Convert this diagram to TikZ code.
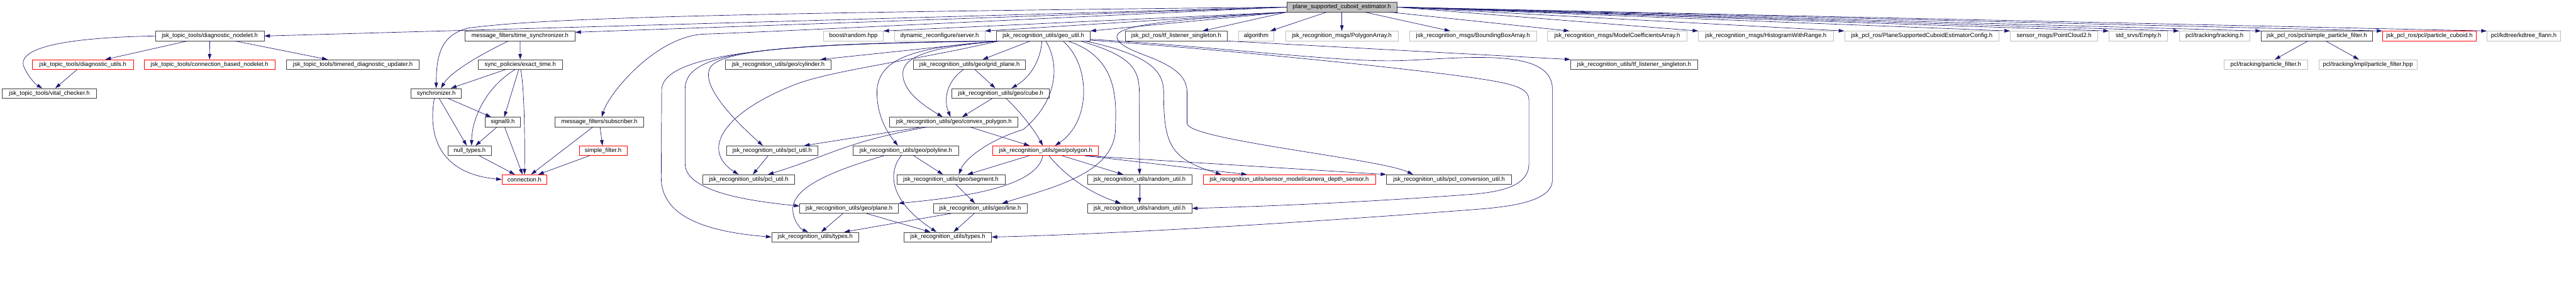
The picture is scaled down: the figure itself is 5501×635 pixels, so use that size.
\documentclass[tikz,border=0pt]{standalone}
\usepackage{fontspec}
\setmainfont{Liberation Sans}
\usepackage{tikz}
\usetikzlibrary{arrows.meta,positioning}
\definecolor{edgeblue}{HTML}{191970}
\definecolor{boxgray}{HTML}{404040}
\definecolor{extgray}{HTML}{BFBFBF}

\begin{document}
\begin{tikzpicture}[x=1pt,y=-1pt,
  hdr/.style={draw=boxgray,line width=0.9pt,fill=white,inner sep=0pt,
    minimum height=20.6pt,font=\fontsize{12.8}{14}\selectfont},
  hdrred/.style={hdr,draw=red},
  hdrext/.style={hdr,draw=extgray},
  hdrroot/.style={hdr,fill=extgray},
  inc/.style={-{Triangle[length=12pt,width=7.5pt]},line width=0.9pt,edgeblue}]
\useasboundingbox (0,0) rectangle (5501,635);
% row 0
\node[hdrroot,minimum width=235pt] (root) at (2865.5,15.2) {plane\_supported\_cuboid\_estimator.h};
% row 1
\node[hdr,minimum width=232pt] (dnode) at (448,77) {jsk\_topic\_tools/diagnostic\_nodelet.h};
\node[hdr,minimum width=235pt] (tsync) at (1110.5,77) {message\_filters/time\_synchronizer.h};
\node[hdrext,minimum width=127pt] (brand) at (1822.5,77) {boost/random.hpp};
\node[hdrext,minimum width=193pt] (dynrec) at (2006.5,77) {dynamic\_reconfigure/server.h};
\node[hdr,minimum width=200pt] (geoutil) at (2228,77) {jsk\_recognition\_utils/geo\_util.h};
\node[hdr,minimum width=218pt] (pcltf) at (2512,77) {jsk\_pcl\_ros/tf\_listener\_singleton.h};
\node[hdrext,minimum width=75pt] (algo) at (2682.5,77) {algorithm};
\node[hdrext,minimum width=241pt] (polyarr) at (2865.5,77) {jsk\_recognition\_msgs/PolygonArray.h};
\node[hdrext,minimum width=271pt] (bbox) at (3145.5,77) {jsk\_recognition\_msgs/BoundingBoxArray.h};
\node[hdrext,minimum width=299pt] (modelc) at (3453.5,77) {jsk\_recognition\_msgs/ModelCoefficientsArray.h};
\node[hdrext,minimum width=288pt] (hist) at (3771,77) {jsk\_recognition\_msgs/HistogramWithRange.h};
\node[hdrext,minimum width=330pt] (config) at (4104,77) {jsk\_pcl\_ros/PlaneSupportedCuboidEstimatorConfig.h};
\node[hdrext,minimum width=187pt] (pc2) at (4386.5,77) {sensor\_msgs/PointCloud2.h};
\node[hdrext,minimum width=125pt] (empty) at (4566.5,77) {std\_srvs/Empty.h};
\node[hdrext,minimum width=150pt] (tracking) at (4729,77) {pcl/tracking/tracking.h};
\node[hdr,minimum width=237pt] (spf) at (4947.5,77) {jsk\_pcl\_ros/pcl/simple\_particle\_filter.h};
\node[hdrred,minimum width=200pt] (pcub) at (5188,77) {jsk\_pcl\_ros/pcl/particle\_cuboid.h};
\node[hdrext,minimum width=157pt] (kdtree) at (5389.5,77) {pcl/kdtree/kdtree\_flann.h};
% row 2
\node[hdrred,minimum width=216pt] (dutils) at (177,138) {jsk\_topic\_tools/diagnostic\_utils.h};
\node[hdrred,minimum width=279pt] (cbn) at (447.5,138) {jsk\_topic\_tools/connection\_based\_nodelet.h};
\node[hdr,minimum width=283pt] (tdu) at (753.5,138) {jsk\_topic\_tools/timered\_diagnostic\_updater.h};
\node[hdr,minimum width=180pt] (exact) at (1111,138) {sync\_policies/exact\_time.h};
\node[hdr,minimum width=226pt] (cyl) at (1662,138) {jsk\_recognition\_utils/geo/cylinder.h};
\node[hdr,minimum width=239pt] (grid) at (2070.5,138) {jsk\_recognition\_utils/geo/grid\_plane.h};
\node[hdr,minimum width=271pt] (utf) at (3489.5,138) {jsk\_recognition\_utils/tf\_listener\_singleton.h};
\node[hdrext,minimum width=179pt] (pf) at (4838.5,138) {pcl/tracking/particle\_filter.h};
\node[hdrext,minimum width=209pt] (pfhpp) at (5056.5,138) {pcl/tracking/impl/particle\_filter.hpp};
% row 3
\node[hdr,minimum width=201pt] (vital) at (105.5,199.5) {jsk\_topic\_tools/vital\_checker.h};
\node[hdr,minimum width=107pt] (sync) at (931.5,199.5) {synchronizer.h};
\node[hdr,minimum width=208pt] (cube) at (2137,199.5) {jsk\_recognition\_utils/geo/cube.h};
% row 4
\node[hdr,minimum width=75pt] (signal) at (1073.5,261) {signal9.h};
\node[hdr,minimum width=190pt] (sub) at (1280,261) {message\_filters/subscriber.h};
\node[hdr,minimum width=274pt] (convex) at (2037,261) {jsk\_recognition\_utils/geo/convex\_polygon.h};
% row 5
\node[hdr,minimum width=92pt] (null) at (1003,322.3) {null\_types.h};
\node[hdrred,minimum width=102pt] (sfilt) at (1288,322.3) {simple\_filter.h};
\node[hdr,minimum width=196pt] (pclA) at (1649,322.3) {jsk\_recognition\_utils/pcl\_util.h};
\node[hdr,minimum width=225pt] (polyline) at (1934.5,322.3) {jsk\_recognition\_utils/geo/polyline.h};
\node[hdrred,minimum width=226pt] (polygon) at (2233,322.3) {jsk\_recognition\_utils/geo/polygon.h};
% row 6
\node[hdrred,minimum width=96pt] (conn) at (1120,384) {connection.h};
\node[hdr,minimum width=196pt] (pclB) at (1599,384) {jsk\_recognition\_utils/pcl\_util.h};
\node[hdr,minimum width=231pt] (segment) at (2030.5,384) {jsk\_recognition\_utils/geo/segment.h};
\node[hdr,minimum width=223pt] (randA) at (2433.5,384) {jsk\_recognition\_utils/random\_util.h};
\node[hdrred,minimum width=368pt] (camera) at (2753,384) {jsk\_recognition\_utils/sensor\_model/camera\_depth\_sensor.h};
\node[hdr,minimum width=267pt] (pclconv) at (3094.5,384) {jsk\_recognition\_utils/pcl\_conversion\_util.h};
% row 7
\node[hdr,minimum width=210pt] (plane) at (1813,445.7) {jsk\_recognition\_utils/geo/plane.h};
\node[hdr,minimum width=200pt] (line) at (2093,445.7) {jsk\_recognition\_utils/geo/line.h};
\node[hdr,minimum width=223pt] (randB) at (2433.5,445.7) {jsk\_recognition\_utils/random\_util.h};
% row 8
\node[hdr,minimum width=186pt] (typesA) at (1741,507) {jsk\_recognition\_utils/types.h};
\node[hdr,minimum width=186pt] (typesB) at (2024,507) {jsk\_recognition\_utils/types.h};

% root includes, left side
\draw[inc] (root.west) -- (dnode.east);
\draw[inc] (root.west) -- ([yshift=8pt]tsync.east);
\draw[inc] (root.west) .. controls (1500,28) and (1150,40) .. (1000,60)
  .. controls (940,75) and (932,120) .. (sync.north);
\draw[inc] (root.west) .. controls (2000,50) and (1650,68) .. (1503,73)
  .. controls (1400,78) and (1300,200) .. ([xshift=5pt]sub.north);
\draw[inc] (root.south west) -- (brand.north east);
\draw[inc] (root.south west) -- (dynrec.north east);
\draw[inc] (root.south west) -- (geoutil.north east);
\draw[inc] (root.south west) -- ([xshift=56pt]pcltf.north);
\draw[inc] (root) -- ([xshift=30pt]algo.north);
\draw[inc] (root.south west) .. controls (2550,40) and (2385,50) .. (2385,78)
  .. controls (2385,100) and (2440,115) .. (2467,127)
  .. controls (2520,150) and (2535,170) .. (2535,200) -- (2535,265)
  .. controls (2545,300) and (2950,340) .. ([xshift=-77pt]pclconv.north);
% root includes, right side
\draw[inc] (root) -- (polyarr);
\draw[inc] (root) -- (bbox);
\draw[inc] (root) -- (modelc);
\draw[inc] (root.east) -- (hist.north west);
\draw[inc] (root.east) -- (config.north west);
\draw[inc] (root.east) -- (pc2.north west);
\draw[inc] (root.east) -- (empty.north west);
\draw[inc] (root.east) -- (tracking.north west);
\draw[inc] (root.east) -- (spf.north west);
\draw[inc] (root.east) -- (pcub.north west);
\draw[inc] (root.east) -- (kdtree.north west);
% topic tools
\draw[inc] (dnode.west) .. controls (150,80) and (40,100) .. (50,140)
  .. controls (57,160) and (75,180) .. ([xshift=-15pt]vital.north);
\draw[inc] (dnode) -- (dutils);
\draw[inc] (dnode) -- (cbn);
\draw[inc] (dnode) -- (tdu);
\draw[inc] (dutils) -- (vital);
% message filters
\draw[inc] ([xshift=-25pt]tsync.south) .. controls (1040,110) and (965,150) .. ([xshift=10pt]sync.north);
\draw[inc] (tsync) -- (exact);
\draw[inc] (exact) -- (sync);
\draw[inc] ([xshift=-11pt]exact.south) .. controls (1040,185) and (1008,250) .. ([xshift=4pt]null.north);
\draw[inc] (exact) -- (signal);
\draw[inc] ([xshift=1pt]exact.south) .. controls (1120,190) and (1121,300) .. (conn.north);
\draw[inc] (sync) -- (null);
\draw[inc] (sync) -- (signal);
\draw[inc] ([xshift=-4pt]sync.south) .. controls (915,280) and (930,370) .. (conn.west);
\draw[inc] (signal) -- (null);
\draw[inc] (signal) -- (conn);
\draw[inc] (null) -- (conn);
\draw[inc] (sub) -- (conn);
\draw[inc] (sub) -- (sfilt);
\draw[inc] (sfilt) -- (conn);
% geo_util
\draw[inc] (geoutil) -- (grid);
\draw[inc] ([xshift=-3pt]geoutil.south) .. controls (2222,130) and (2200,165) .. ([xshift=23pt]cube.north);
\draw[inc] ([xshift=5pt]geoutil.south) .. controls (2260,130) and (2265,210) .. (2185,277)
  .. controls (2110,300) and (2060,340) .. ([xshift=17pt]segment.north);
\draw[inc] ([xshift=42pt]geoutil.south) .. controls (2330,140) and (2330,260) .. ([xshift=20pt]polygon.north);
\draw[inc] ([xshift=52pt]geoutil.south) .. controls (2380,120) and (2385,200) .. (2382,270)
  .. controls (2385,370) and (2250,400) .. ([xshift=47pt]line.north);
\draw[inc] ([xshift=79pt]geoutil.south) .. controls (2420,120) and (2433,150) .. (2433,200) -- (randA.north);
\draw[inc] ([xshift=89pt]geoutil.south) .. controls (2470,120) and (2485,160) .. (2485,200)
  .. controls (2485,310) and (2500,340) .. ([xshift=-145pt]camera.north);
\draw[inc] ([yshift=-7pt]geoutil.east) .. controls (2600,100) and (2850,132) .. (2977,130)
  .. controls (3100,128) and (3315,95) .. (3315,190) -- (3315,385)
  .. controls (3315,430) and (3230,442) .. (3150,448)
  .. controls (2800,475) and (2400,500) .. (typesB.east);
\draw[inc] ([yshift=-9pt]geoutil.east) .. controls (2600,105) and (3000,145) .. (3150,167)
  .. controls (3240,180) and (3265,190) .. (3265,215) -- (3265,350)
  .. controls (3265,400) and (3200,410) .. (3150,415)
  .. controls (2950,430) and (2750,440) .. (randB.east);
\draw[inc] (geoutil.south west) -- ([xshift=90pt]cyl.north);
\draw[inc] (geoutil.south west) .. controls (1800,92) and (1560,100) .. (1520,140)
  .. controls (1490,175) and (1560,250) .. ([xshift=-20pt]pclA.north);
\draw[inc] ([xshift=5pt]geoutil.south west) .. controls (1950,130) and (1780,150) .. (1700,180)
  .. controls (1545,240) and (1495,320) .. ([xshift=-22pt]pclB.north);
\draw[inc] (geoutil.south west) .. controls (1700,92) and (1420,110) .. (1413,190) -- (1412,380)
  .. controls (1412,460) and (1500,495) .. (typesA.west);
\draw[inc] (geoutil.south west) .. controls (1650,96) and (1463,105) .. (1463,190) -- (1463,350)
  .. controls (1463,410) and (1600,430) .. ([yshift=5pt]plane.west);
\draw[inc] ([xshift=5pt]geoutil.south west) .. controls (1980,100) and (1880,115) .. (1873,190)
  .. controls (1870,250) and (1900,290) .. ([xshift=-17pt]polyline.north);
\draw[inc] ([xshift=10pt]geoutil.south west) .. controls (1990,100) and (1925,120) .. (1928,160)
  .. controls (1930,200) and (1980,230) .. ([xshift=-24pt]convex.north);
% geometry headers
\draw[inc] (grid) -- (cube);
\draw[inc] ([xshift=-13pt]grid.south) .. controls (2020,175) and (2015,215) .. ([xshift=-7pt]convex.north);
\draw[inc] (cube) -- (convex);
\draw[inc] ([xshift=11pt]cube.south) .. controls (2180,240) and (2210,280) .. ([xshift=-6pt]polygon.north);
\draw[inc] (convex) -- (polygon);
\draw[inc] (convex) -- (pclA);
\draw[inc] ([xshift=-57pt]convex.south) .. controls (1800,305) and (1780,330) .. ([xshift=41pt]pclB.north);
\draw[inc] (polyline) -- (segment);
\draw[inc] ([xshift=-10pt]polyline.south) .. controls (1895,370) and (1900,430) .. ([xshift=-24pt]typesB.north);
\draw[inc] ([xshift=-47pt]polyline.south) .. controls (1780,365) and (1690,400) .. (1693,450)
  .. controls (1695,475) and (1710,490) .. ([xshift=-15pt]typesA.north);
\draw[inc] (polygon) -- (segment);
\draw[inc] ([xshift=-6pt]polygon.south) .. controls (2215,395) and (2080,420) .. (plane.north east);
\draw[inc] ([xshift=7pt]polygon.south) .. controls (2270,370) and (2320,410) .. ([xshift=-40pt]randB.north);
\draw[inc] (polygon) -- (randA);
\draw[inc] ([xshift=84pt]polygon.south) -- ([xshift=-90pt]camera.north);
\draw[inc] ([xshift=84pt]polygon.south) -- (pclconv.north west);
\draw[inc] (segment) -- (line);
\draw[inc] (line) -- (typesB);
\draw[inc] (line) -- (typesA);
\draw[inc] (plane) -- (typesB);
\draw[inc] (plane) -- (typesA);
\draw[inc] (pclA) -- (pclB);
\draw[inc] (randA) -- (randB);
% others
\draw[inc] (pcltf.south east) -- (utf.north west);
\draw[inc] (spf) -- (pf);
\draw[inc] (spf) -- (pfhpp);
\end{tikzpicture}
\end{document}
